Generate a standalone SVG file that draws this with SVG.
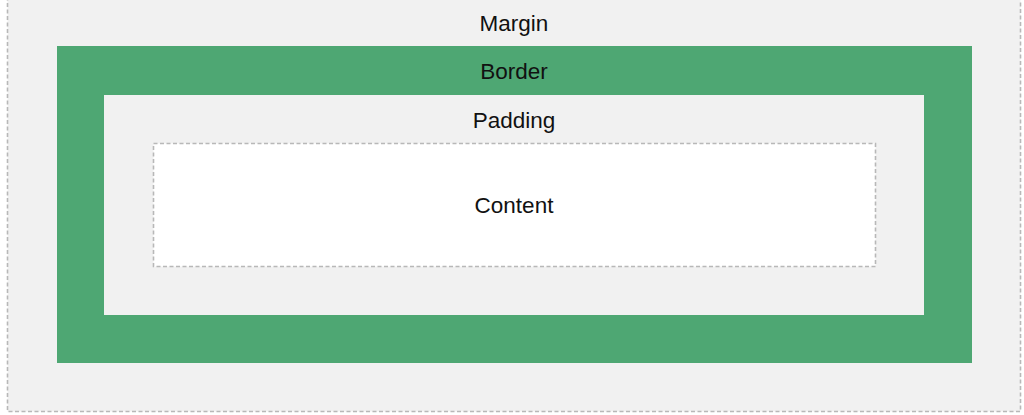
<svg xmlns="http://www.w3.org/2000/svg" width="1024" height="415" viewBox="0 0 1024 415">
<style>
.lbl{font-family:"Liberation Sans",Arial,sans-serif;font-size:22.5px;fill:#111;text-anchor:middle}
.dash{stroke:#b8b8b8;stroke-width:1.6;stroke-dasharray:4 2.5}
</style>
<rect width="1024" height="415" fill="#ffffff"/>
<g id="margin">
<rect x="7.5" y="-5" width="1013" height="416.5" class="dash" fill="#f1f1f1"/>
<text class="lbl" x="514" y="31">Margin</text>
</g>
<g id="border">
<rect x="57" y="46" width="915" height="317" fill="#4ea773"/>
<text class="lbl" x="514" y="79">Border</text>
</g>
<g id="padding">
<rect x="104" y="95" width="820" height="220" fill="#f1f1f1"/>
<text class="lbl" x="514" y="128">Padding</text>
</g>
<g id="content">
<rect x="153.5" y="143.5" width="722" height="123" class="dash" fill="#ffffff"/>
<text class="lbl" x="514" y="213">Content</text>
</g>
<g id="connectors"/>
</svg>
